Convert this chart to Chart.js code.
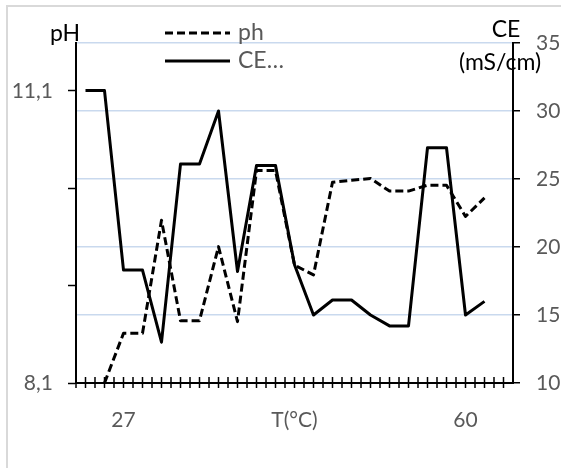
<!DOCTYPE html>
<html>
<head>
<meta charset="utf-8">
<script src="https://cdn.jsdelivr.net/npm/chart.js@4/dist/chart.umd.min.js"></script>
<style>
  html, body { margin: 0; padding: 0; background: #fff; }
  #wrap { position: relative; width: 561px; height: 468px; }
</style>
</head>
<body>
<div id="wrap"><canvas id="chart" width="561" height="468"></canvas></div>
<script>
// Categories (only a few carry a visible label)
const categories = ['', '', '27', '', '', '', '', '', '', '', '', 'T(°C)', '', '', '', '', '', '', '', '', '60', '', ''];

// Series values
const phValues = [null, 8.1, 8.61, 8.61, 9.77, 8.74, 8.74, 9.5, 8.73, 10.28, 10.28, 9.31, 9.21, 10.16, 10.18, 10.2, 10.07, 10.07, 10.13, 10.13, 9.81, 10.0];
const ceValues = [31.5, 31.5, 18.3, 18.3, 13.0, 26.1, 26.1, 30.0, 18.2, 26.0, 26.0, 18.7, 15.0, 16.1, 16.1, 15.0, 14.2, 14.2, 27.3, 27.3, 15.0, 16.0];

// Axis ticks
const pHTicks = [8.1, 9.1, 10.1, 11.1];
const pHTickLabels = ['8,1', '', '', '11,1'];
const ceTicks = [10, 15, 20, 25, 30, 35];
const ceTickLabels = ['10', '15', '20', '25', '30', '35'];

const seriesNames = ['ph', 'CE…'];

const FONT = 'Lato, "Open Sans", sans-serif';
const GREY = '#595959';

// Frame, x tick marks, legend and axis titles
const decor = {
  id: 'decor',
  beforeDraw(chart) {
    const ctx = chart.ctx;
    ctx.save();
    ctx.fillStyle = '#fff';
    ctx.fillRect(0, 0, chart.width, chart.height);
    ctx.strokeStyle = '#d9d9d9';
    ctx.lineWidth = 2;
    ctx.beginPath();
    ctx.moveTo(7, chart.height);
    ctx.lineTo(7, 6);
    ctx.lineTo(chart.width, 6);
    ctx.stroke();
    ctx.restore();
  },
  afterDraw(chart) {
    const ctx = chart.ctx;
    const x = chart.scales.x;
    const yb = chart.chartArea.bottom;
    const step = x.getPixelForValue(1) - x.getPixelForValue(0);

    ctx.save();
    ctx.strokeStyle = '#000';
    ctx.lineWidth = 1.5;
    ctx.beginPath();
    for (let i = 0; i < categories.length; i++) {
      const c = x.getPixelForValue(i);
      [c - step / 2, c].forEach(px => {
        ctx.moveTo(px, yb - 6);
        ctx.lineTo(px, yb + 5);
      });
    }
    ctx.stroke();

    // legend
    ctx.lineWidth = 3;
    ctx.setLineDash([8, 4]);
    ctx.beginPath();
    ctx.moveTo(165, 33);
    ctx.lineTo(230, 33);
    ctx.stroke();
    ctx.setLineDash([]);
    ctx.beginPath();
    ctx.moveTo(165, 61);
    ctx.lineTo(230, 61);
    ctx.stroke();

    ctx.font = '23px ' + FONT;
    ctx.fillStyle = GREY;
    ctx.textAlign = 'left';
    ctx.textBaseline = 'middle';
    ctx.fillText(seriesNames[0], 238, 33);
    ctx.fillText(seriesNames[1], 238, 61);

    // axis titles
    ctx.fillStyle = '#000';
    ctx.textBaseline = 'alphabetic';
    ctx.fillText('pH', 50, 41);
    ctx.textAlign = 'center';
    ctx.fillText('CE', 506, 37);
    ctx.fillText('(mS/cm)', 500, 70);
    ctx.restore();
  }
};

new Chart(document.getElementById('chart'), {
  type: 'line',
  data: {
    labels: categories,
    datasets: [
      {
        label: seriesNames[0],
        data: phValues,
        yAxisID: 'yPH',
        borderColor: '#000',
        borderWidth: 3,
        borderDash: [8, 4],
        borderJoinStyle: 'round',
        pointRadius: 0,
        tension: 0,
        fill: false,
        order: 1
      },
      {
        label: seriesNames[1],
        data: ceValues,
        yAxisID: 'yCE',
        borderColor: '#000',
        borderWidth: 3,
        borderJoinStyle: 'round',
        pointRadius: 0,
        tension: 0,
        fill: false,
        order: 0
      }
    ]
  },
  options: {
    responsive: false,
    animation: false,
    layout: { padding: { top: 43, left: 0, right: 0, bottom: 0 } },
    plugins: {
      legend: { display: false },
      tooltip: { enabled: false }
    },
    scales: {
      x: {
        type: 'category',
        offset: true,
        afterFit: s => { s.height = 85; },
        grid: { display: false },
        border: { color: '#000', width: 2 },
        ticks: {
          autoSkip: false,
          maxRotation: 0,
          padding: 17,
          color: GREY,
          font: { family: FONT, size: 21 },
          callback: (v, i) => categories[i]
        }
      },
      yPH: {
        type: 'linear',
        position: 'left',
        min: 8.1,
        max: 11.59,
        afterBuildTicks: s => { s.ticks = pHTicks.map(v => ({ value: v })); },
        afterFit: s => { s.width = 76; },
        grid: { drawOnChartArea: false, tickLength: 8, tickColor: '#000', tickWidth: 1.5 },
        border: { color: '#000', width: 2 },
        ticks: {
          padding: 15,
          color: GREY,
          font: { family: FONT, size: 21 },
          callback: (v, i) => pHTickLabels[i]
        }
      },
      yCE: {
        type: 'linear',
        position: 'right',
        min: 10,
        max: 35,
        afterBuildTicks: s => { s.ticks = ceTicks.map(v => ({ value: v })); },
        afterFit: s => { s.width = 48; },
        grid: {
          color: ctx => (ctx.tick && ctx.tick.value === 10 ? 'rgba(0,0,0,0)' : '#c9d9ee'),
          lineWidth: 1.5,
          tickLength: 7,
          tickColor: '#000',
          tickWidth: 1.5
        },
        border: { color: '#000', width: 2 },
        ticks: {
          padding: 16,
          color: GREY,
          font: { family: FONT, size: 21 },
          callback: (v, i) => ceTickLabels[i]
        }
      }
    }
  },
  plugins: [decor]
});
</script>
</body>
</html>
